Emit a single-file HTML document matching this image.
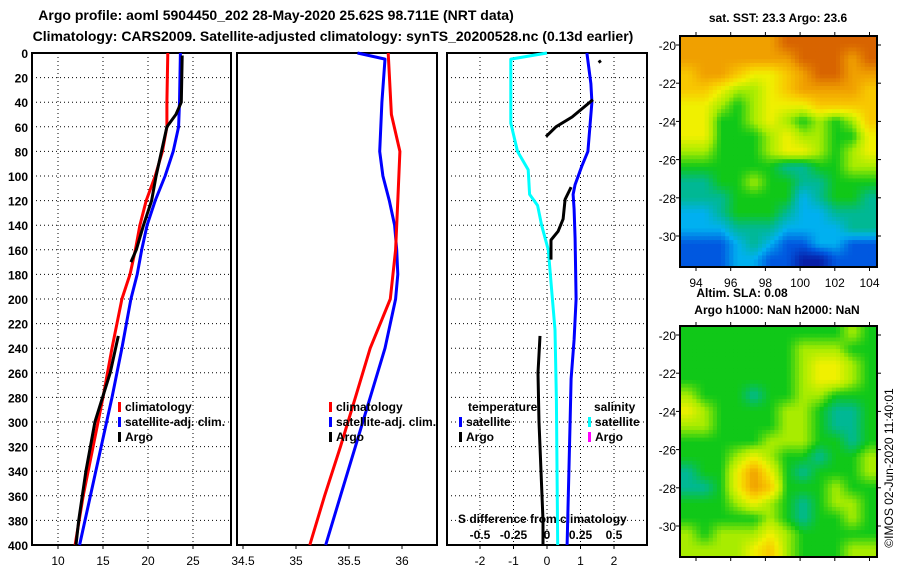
<!DOCTYPE html>
<html><head><meta charset="utf-8">
<style>
body{margin:0;background:#fff;}
svg{display:block;font-family:"Liberation Sans",Arial,sans-serif;font-weight:bold;}
</style></head>
<body>
<svg id="c" width="900" height="580" viewBox="0 0 900 580" xmlns="http://www.w3.org/2000/svg">
<text x="276" y="20" font-size="14" text-anchor="middle">Argo profile: aoml 5904450_202 28-May-2020 25.62S 98.711E (NRT data)</text>
<text x="333" y="41" font-size="14" text-anchor="middle">Climatology: CARS2009. Satellite-adjusted climatology: synTS_20200528.nc (0.13d earlier)</text>
<text x="778" y="22" font-size="12" text-anchor="middle">sat. SST: 23.3 Argo: 23.6</text>
<text x="742" y="297" font-size="12" text-anchor="middle">Altim. SLA: 0.08</text>
<text x="777" y="314" font-size="12" text-anchor="middle">Argo h1000: NaN h2000: NaN</text>
<text x="0" y="0" font-size="12" font-weight="normal" transform="translate(893,468) rotate(-90)" text-anchor="middle">©IMOS 02-Jun-2020 11:40:01</text>
<g id="g"></g>
</svg>
<script>
// ---- data ----
const depthTicks = [0,20,40,60,80,100,120,140,160,180,200,220,240,260,280,300,320,340,360,380,400];
const tempTicks = [10,15,20,25];
const salTicks = [34.5,35,35.5,36];
const diffTicks = [-2,-1,0,1,2];
const diffSalLabels = ['-0.5','-0.25','0','0.25','0.5'];
const lonTicks = [94,96,98,100,102,104];
const latTicks = [-20,-22,-24,-26,-28,-30];

const tClimDepth = [0,40,60,80,100,120,140,160,180,200,240,280,320,360,400];
const tClimVal = [22.2,22.1,22.1,21.6,20.8,19.8,19.1,18.6,18.0,17.1,16.0,15.0,13.9,12.8,11.9];
const tSatDepth = [0,40,60,80,100,120,140,160,180,200,240,280,320,360,400];
const tSatVal = [23.6,23.5,23.4,22.8,21.9,20.8,19.9,19.3,18.8,18.1,17.1,16.0,14.8,13.6,12.4];
const tArgoDepth = [2,40,50,57,60,70,100,120,140,160,170,null,230,260,300,340,380,400];
const tArgoVal = [23.8,23.7,23.1,22.4,22.1,21.8,20.9,20.4,19.5,18.7,18.1,null,16.7,15.8,14.1,13.1,12.3,12.0];

const sClimDepth = [0,50,80,120,160,200,240,280,320,360,400];
const sClimVal = [35.87,35.9,35.98,35.96,35.94,35.89,35.7,35.56,35.42,35.27,35.13];
const sSatDepth = [0,5,40,80,100,120,140,160,180,200,240,280,320,360,400];
const sSatVal = [35.58,35.84,35.81,35.79,35.82,35.88,35.93,35.95,35.96,35.94,35.84,35.7,35.56,35.42,35.28];

const dTSatDepth = [0,25,40,80,92,107,115,127,151,200,233,265,300,400];
const dTSatVal = [1.19,1.31,1.34,1.22,1.04,0.84,0.78,0.81,0.84,0.87,0.81,0.72,0.69,0.6];
const dSSatDepth = [0,5,57,80,95,115,124,140,160,200,225,282,400];
const dSSatVal = [0,-0.27,-0.27,-0.22,-0.14,-0.13,-0.07,-0.04,0.01,0.04,0.06,0.07,0.08];
const dTArgoDepth = [6,8,null,38,52,60,68,null,109,119,135,145,152,168,null,230,260,300,340,380,420];
const dTArgoVal = [1.55,1.6,null,1.37,0.75,0.27,-0.03,null,0.72,0.54,0.48,0.33,0.12,0.12,null,-0.21,-0.27,-0.24,-0.18,-0.12,-0.12];

const sstGrid = [
[8,8,8,8,8,8,9,9,9,9,9,9],
[8,8,8,8,8,8,8,9,9,9,8,9],
[7,8,8,7,6,6,7,8,9,9,8,8],
[7,7,6,5,5,6,7,8,8,8,8,7],
[6,6,5,4,5,6,6,6,7,7,7,7],
[6,6,4,4,5,6,5,4,5,4,5,7],
[6,6,4,4,4,5,6,5,5,4,4,6],
[5,5,4,4,4,5,6,6,5,4,5,6],
[4,4,4,4,4,4,3,3,4,4,5,5],
[3,3,4,4,5,4,4,3,3,4,4,4],
[3,3,3,4,4,4,4,2,3,4,4,3],
[2,2,3,4,4,4,3,2,2,3,3,3],
[2,2,2,3,3,3,2,2,2,2,3,3],
[1,1,1,2,3,2,1,1,2,2,1,1],
[1,1,1,2,2,1,1,0,0,1,1,1]];
const slaGrid = [
[4,4,4,4,4,4,4,4,4,4,5,4],
[4,4,4,4,4,4,4,5,5,5,4,4],
[4,4,4,4,4,4,4,5,6,6,5,4],
[4,4,4,4,4,4,4,5,6,6,5,4],
[5,4,4,4,3,4,4,5,5,4,4,4],
[6,5,4,4,4,4,5,5,4,3,3,4],
[5,5,4,4,4,4,5,5,4,3,3,4],
[4,4,4,4,4,5,5,5,4,4,3,4],
[4,4,4,5,6,5,4,4,3,4,4,5],
[3,4,4,6,8,6,4,3,4,4,4,5],
[3,3,4,6,8,7,4,4,4,5,4,4],
[4,4,4,5,6,5,4,3,4,5,5,4],
[4,4,4,4,4,5,4,3,4,4,5,4],
[5,4,5,5,5,6,5,4,4,4,4,4],
[5,5,5,5,6,7,5,4,4,4,5,5]];
const cmap = [[8,32,168],[0,88,224],[0,176,240],[0,184,148],[16,200,24],[168,236,0],[240,240,0],[248,200,0],[240,160,0],[216,100,0]];

// ---- drawing ----
const NS='http://www.w3.org/2000/svg';
const G=document.getElementById('g');
function mk(tag,attrs,parent){const e=document.createElementNS(NS,tag);for(const k in attrs)e.setAttribute(k,attrs[k]);(parent||G).appendChild(e);return e;}
const yD = d => 53 + d*1.23;
const P = [
 {x0:32,x1:231,fx:v=>58+(v-10)*9},
 {x0:237,x1:437,fx:v=>296+(v-35)*106},
 {x0:447,x1:647,fx:v=>547+v*33.5}
];
const fxS = v => 547 + v*134;

function grid(p,vals,fx,name){
  depthTicks.forEach(d=>{
    const l=mk('line',{x1:p.x0,x2:p.x1,y1:yD(d),y2:yD(d),stroke:'#000','stroke-width':1,'stroke-dasharray':'1 3'});
    
    
  });
  vals.forEach(v=>{
    const l=mk('line',{x1:fx(v),x2:fx(v),y1:53,y2:545,stroke:'#000','stroke-width':1,'stroke-dasharray':'1 3'});
    
    
  });
}
grid(P[0],tempTicks,P[0].fx,'temp-panel');
grid(P[2],diffTicks,P[2].fx,'diff-panel');

P.forEach((p,i)=>{
  const r=mk('rect',{x:p.x0,y:53,width:p.x1-p.x0,height:492,fill:'none',stroke:'#000','stroke-width':2});
  
  
});

depthTicks.forEach(d=>{
  const t=mk('text',{x:28,y:yD(d)+5,'font-size':12,'text-anchor':'end'});
  t.textContent=d;
  
  
});
function xlabels(vals,fx,name){
  vals.forEach(v=>{
    const t=mk('text',{x:fx(v),y:565,'font-size':12,'text-anchor':'middle','font-weight':'normal'});
    t.textContent=v;
    
    
    mk('line',{x1:fx(v),x2:fx(v),y1:545,y2:549,stroke:'#000'});
  });
}
xlabels(tempTicks,P[0].fx,'temp-tick-label');
xlabels(salTicks,P[1].fx,'sal-tick-label');
xlabels(diffTicks,P[2].fx,'tdiff-tick-label');
diffSalLabels.forEach((s,i)=>{
  const t=mk('text',{x:P[2].fx(diffTicks[i]),y:539,'font-size':12,'text-anchor':'middle'});
  t.textContent=s;
  
  
});
{const t=mk('text',{x:458,y:523,'font-size':12});t.textContent='S difference from climatology';

}

function line(depths,vals,fx,color,name,w){
  let d='',pen=false;
  depths.forEach((dp,i)=>{
    if(dp===null||vals[i]===null){pen=false;return;}
    d+=(pen?'L':'M')+fx(vals[i]).toFixed(1)+' '+yD(Math.min(dp,400)).toFixed(1)+' ';pen=true;
  });
  const p=mk('path',{d:d,fill:'none',stroke:color,'stroke-width':w||3,'stroke-linejoin':'round'});
  
  
}
line(tSatDepth,tSatVal,P[0].fx,'#0000ff','temp-satellite-line');
line(tClimDepth,tClimVal,P[0].fx,'#ff0000','temp-climatology-line');
line(tArgoDepth,tArgoVal,P[0].fx,'#000','temp-argo-line');
line(sSatDepth,sSatVal,P[1].fx,'#0000ff','sal-satellite-line');
line(sClimDepth,sClimVal,P[1].fx,'#ff0000','sal-climatology-line');
line(dSSatDepth,dSSatVal,fxS,'#00ffff','sdiff-satellite-line');
line(dTSatDepth,dTSatVal,P[2].fx,'#0000ff','tdiff-satellite-line');
line(dTArgoDepth,dTArgoVal,P[2].fx,'#000','tdiff-argo-line');

function leg(x,y,color,label,name){
  mk('rect',{x:x,y:y-9,width:3,height:10,fill:color});
  const t=mk('text',{x:x+7,y:y,'font-size':12});t.textContent=label;
  
  
}
[118,329].forEach(x=>{
  leg(x,411,'#ff0000','climatology','legend-climatology');
  leg(x,426,'#0000ff','satellite-adj. clim.','legend-satellite');
  leg(x,441,'#000','Argo','legend-argo');
});
{const t=mk('text',{x:468,y:411,'font-size':12});t.textContent='temperature';

}
leg(459,426,'#0000ff','satellite','legend-temp-satellite');
leg(459,441,'#000','Argo','legend-temp-argo');
{const t=mk('text',{x:594,y:411,'font-size':12});t.textContent='salinity';

}
leg(588,426,'#00ffff','satellite','legend-sal-satellite');
leg(588,441,'#ff00ff','Argo','legend-sal-argo');

// maps
function colorOf(v){
  v=Math.max(0,Math.min(cmap.length-1,v));
  const i=Math.min(cmap.length-2,Math.floor(v)),f=v-i,a=cmap[i],b=cmap[i+1];
  return 'rgb('+a.map((c,k)=>Math.round(c+(b[k]-c)*f)).join(',')+')';
}
function sample(gridv,r,c){
  const R=gridv.length-1,C=gridv[0].length-1;
  r=Math.max(0,Math.min(R,r));c=Math.max(0,Math.min(C,c));
  const r0=Math.min(R-1,Math.floor(r)),c0=Math.min(C-1,Math.floor(c)),fr=r-r0,fc=c-c0;
  return gridv[r0][c0]*(1-fr)*(1-fc)+gridv[r0+1][c0]*fr*(1-fc)+gridv[r0][c0+1]*(1-fr)*fc+gridv[r0+1][c0+1]*fr*fc;
}
function map(gridv,x0,y0,x1,y1,yLat20,name){
  const rows=gridv.length,cols=gridv[0].length,S=4,cw=(x1-x0)/(cols*S),ch=(y1-y0)/(rows*S);
  for(let r=0;r<rows*S;r++)for(let c=0;c<cols*S;c++){
    const v=sample(gridv,(r+0.5)/S-0.5,(c+0.5)/S-0.5);
    const e=mk('rect',{x:(x0+c*cw).toFixed(2),y:(y0+r*ch).toFixed(2),width:(cw+0.4).toFixed(2),height:(ch+0.4).toFixed(2),fill:colorOf(v)});
    
    
  }
  const f=mk('rect',{x:x0,y:y0,width:x1-x0,height:y1-y0,fill:'none',stroke:'#000','stroke-width':2});
  
  
  const fx=l=>696+(l-94)*17.35, fy=la=>yLat20+(-20-la)*19.1;
  lonTicks.forEach(l=>{
    mk('line',{x1:fx(l),x2:fx(l),y1:y0-4,y2:y0,stroke:'#000'});
    mk('line',{x1:fx(l),x2:fx(l),y1:y1,y2:y1+4,stroke:'#000'});
  });
  latTicks.forEach(la=>{
    mk('line',{x1:x0-4,x2:x0,y1:fy(la),y2:fy(la),stroke:'#000'});
    mk('line',{x1:x1,x2:x1+4,y1:fy(la),y2:fy(la),stroke:'#000'});
    const t=mk('text',{x:x0-4,y:fy(la)+5,'font-size':12,'text-anchor':'end','font-weight':'normal'});t.textContent=la;
    
    
  });
  return fx;
}
const fxm=map(sstGrid,680,36,877,267,45,'sst-map');
map(slaGrid,680,326,877,557,335,'sla-map');
lonTicks.forEach(l=>{
  const t=mk('text',{x:fxm(l),y:287,'font-size':12,'text-anchor':'middle','font-weight':'normal'});t.textContent=l;
  
  
});
</script>
</body></html>
